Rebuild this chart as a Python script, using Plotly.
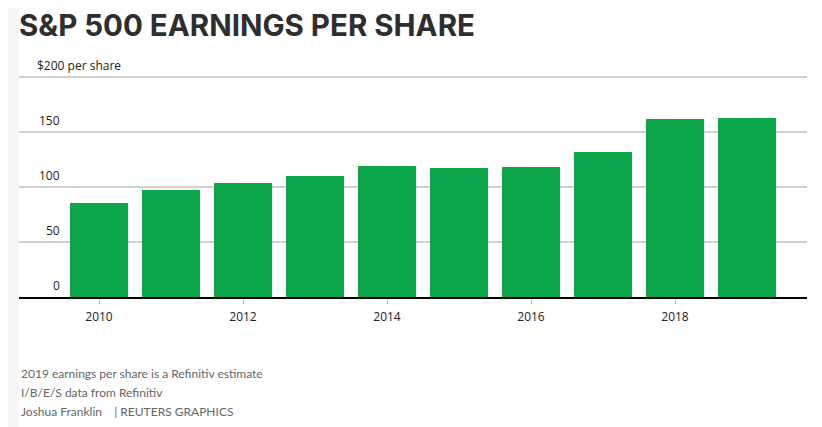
import plotly.graph_objects as go

years = [2010, 2011, 2012, 2013, 2014, 2015, 2016, 2017, 2018, 2019]
eps = [85.0, 97.5, 103.7, 109.8, 118.8, 117.3, 117.6, 131.8, 161.5, 162.1]
y_ticks = [0, 50, 100, 150, 200]
y_tick_labels = ["0", "50", "100", "150", "$200 per share"]
x_ticks = [2010, 2012, 2014, 2016, 2018]

title_text = "S&P 500 EARNINGS PER SHARE"
footer_lines = [
    "2019 earnings per share is a Refinitiv estimate",
    "I/B/E/S data from Refinitiv",
    "Joshua Franklin    | REUTERS GRAPHICS",
]

OFF = 8  # page body margin
W, H = 822 - OFF, 427 - OFF
L, R, T, B = 19 - OFF, 15, 75 - OFF, 130
PW, PH = W - L - R, H - T - B
Y0 = 297  # page pixel of y=0


def py(pix):
    return (Y0 - pix) / PH


def px(pix):
    return (pix - 19) / PW


fig = go.Figure()
fig.add_trace(go.Bar(
    x=years, y=eps, width=58 / 72,
    marker=dict(color="#0ca64b", line=dict(width=0)),
    hoverinfo="x+y",
))

annotations = []
for v, lab in zip(y_ticks, y_tick_labels):
    if v == 200:
        annotations.append(dict(x=px(35), xref="paper", y=v, yref="y", text=lab,
                                xanchor="left", yanchor="bottom", yshift=1, showarrow=False,
                                font=dict(family="Open Sans", size=12, color="#222")))
    else:
        annotations.append(dict(x=px(62), xref="paper", y=v, yref="y", text=lab,
                                xanchor="right", yanchor="bottom", yshift=1, showarrow=False,
                                font=dict(family="Open Sans", size=12, color="#222")))

for i, line in enumerate(footer_lines):
    annotations.append(dict(x=0, xref="paper", y=py(373 + 19 * i), yref="paper", text=line,
                            xanchor="left", yanchor="middle", showarrow=False,
                            font=dict(family="Lato", size=12, color="#666")))

annotations.append(dict(x=px(17), xref="paper", y=py(25), yref="paper", text=title_text,
                        xanchor="left", yanchor="middle", showarrow=False,
                        font=dict(family="Inter", size=29.5, color="#2e2e2e", weight=700)))

fig.update_layout(
    width=W, height=H,
    margin=dict(l=L, r=R, t=T, b=B, pad=0),
    paper_bgcolor="white", plot_bgcolor="white",
    showlegend=False, bargap=0,
    xaxis=dict(range=[2010 - 80 / 72, 2019 + 60 / 72], tickvals=x_ticks,
               ticks="outside", ticklen=5, tickcolor="#bbb", tickwidth=1,
               ticklabelstandoff=3,
               showline=True, linecolor="black", linewidth=2, showgrid=False, zeroline=False,
               tickfont=dict(family="Open Sans", size=12, color="#222")),
    yaxis=dict(range=[0, PH / 1.1025], tickvals=y_ticks, showticklabels=False,
               showgrid=True, gridcolor="#d0d0d0", gridwidth=1.5, zeroline=False, showline=False),
    annotations=annotations,
    shapes=[dict(type="rect", xref="paper", yref="paper", x0=-L / PW, x1=0,
                 y0=py(427), y1=py(0), fillcolor="#f6f6f6", line=dict(width=0), layer="below")],
)

fig.write_html("out.html")
